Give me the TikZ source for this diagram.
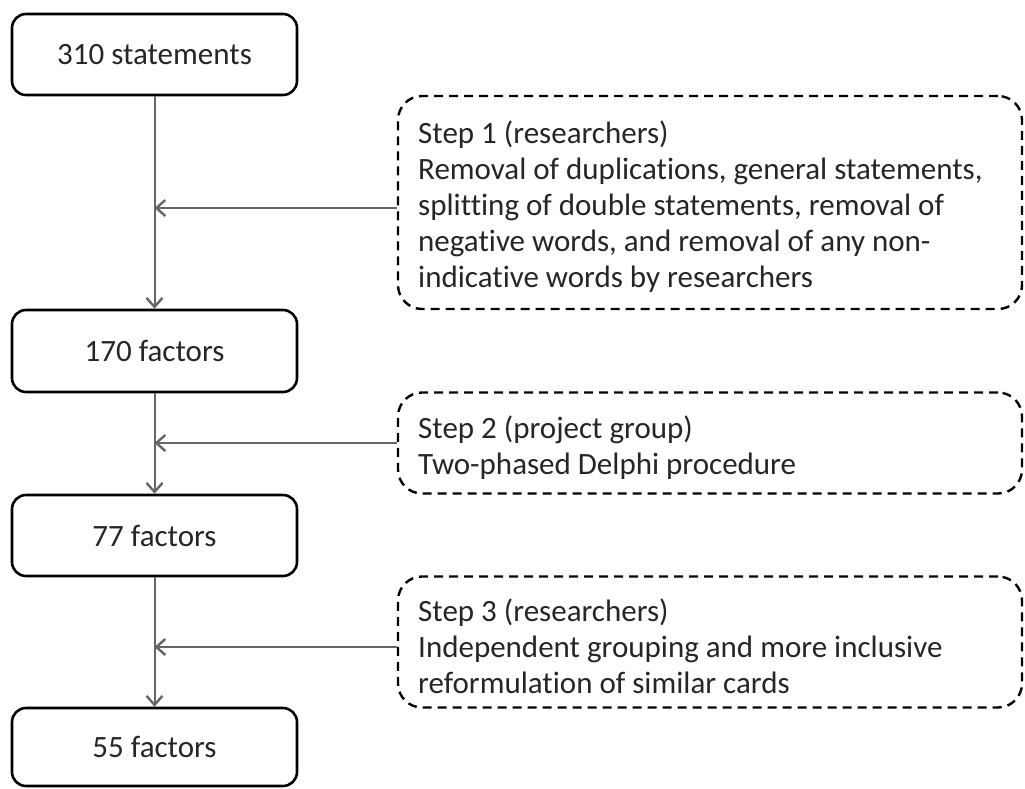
\documentclass[tikz,border=0pt]{standalone}
\usepackage{fontspec}
\setmainfont{Carlito}[Ligatures=NoCommon]
\usetikzlibrary{arrows.meta}
\begin{document}
\begin{tikzpicture}[x=1pt,y=-1pt,
  solidbox/.style={draw=black, line width=2.6pt, rounded corners=14pt, minimum width=285pt, inner sep=0pt, text=black!85, font=\fontsize{31}{36}\selectfont},
  dashbox/.style={draw=black, line width=2.4pt, dash pattern=on 9pt off 6pt, rounded corners=24pt, minimum width=624pt, inner sep=0pt},
  steptext/.style={anchor=west, inner sep=0pt, align=left, text=black!85, font=\fontsize{31}{36}\selectfont},
  flow/.style={draw=black!60, line width=2pt, -{Straight Barb[length=9pt,width=16pt,line width=2.4pt]}},
]
\useasboundingbox[fill=white] (0,0) rectangle (1025,788);

\node[solidbox, minimum height=81pt] (b1) at (154.5,54.5) {310 statements};
\node[solidbox, minimum height=82pt] (b2) at (154.5,351) {170 factors};
\node[solidbox, minimum height=81pt] (b3) at (154.5,535.5) {77 factors};
\node[solidbox, minimum height=78pt] (b4) at (154.5,747) {55 factors};

\node[dashbox, minimum height=213pt] (s1) at (710,202.5) {};
\node[dashbox, minimum height=101pt] (s2) at (710,443) {};
\node[dashbox, minimum height=131pt] (s3) at (710,642) {};

\node[steptext] (t1) at (418,207) {Step 1 (researchers)\\Removal of duplications, general statements,\\splitting of double statements, removal of\\negative words, and removal of any non-\\indicative words by researchers};
\node[steptext] (t2) at (418,448) {Step 2 (project group)\\Two-phased Delphi procedure};
\node[steptext] (t3) at (418,646) {Step 3 (researchers)\\Independent grouping and more inclusive\\reformulation of similar cards};

\draw[flow] (b1.south) -- (b2.north);
\draw[flow] (b2.south) -- (b3.north);
\draw[flow] (b3.south) -- (b4.north);

\coordinate (j1) at (b1.south |- 0,208);
\coordinate (j2) at (b1.south |- 0,443);
\coordinate (j3) at (b1.south |- 0,647);
\draw[flow] (s1.west |- j1) -- (j1);
\draw[flow] (s2.west |- j2) -- (j2);
\draw[flow] (s3.west |- j3) -- (j3);
\end{tikzpicture}
\end{document}
